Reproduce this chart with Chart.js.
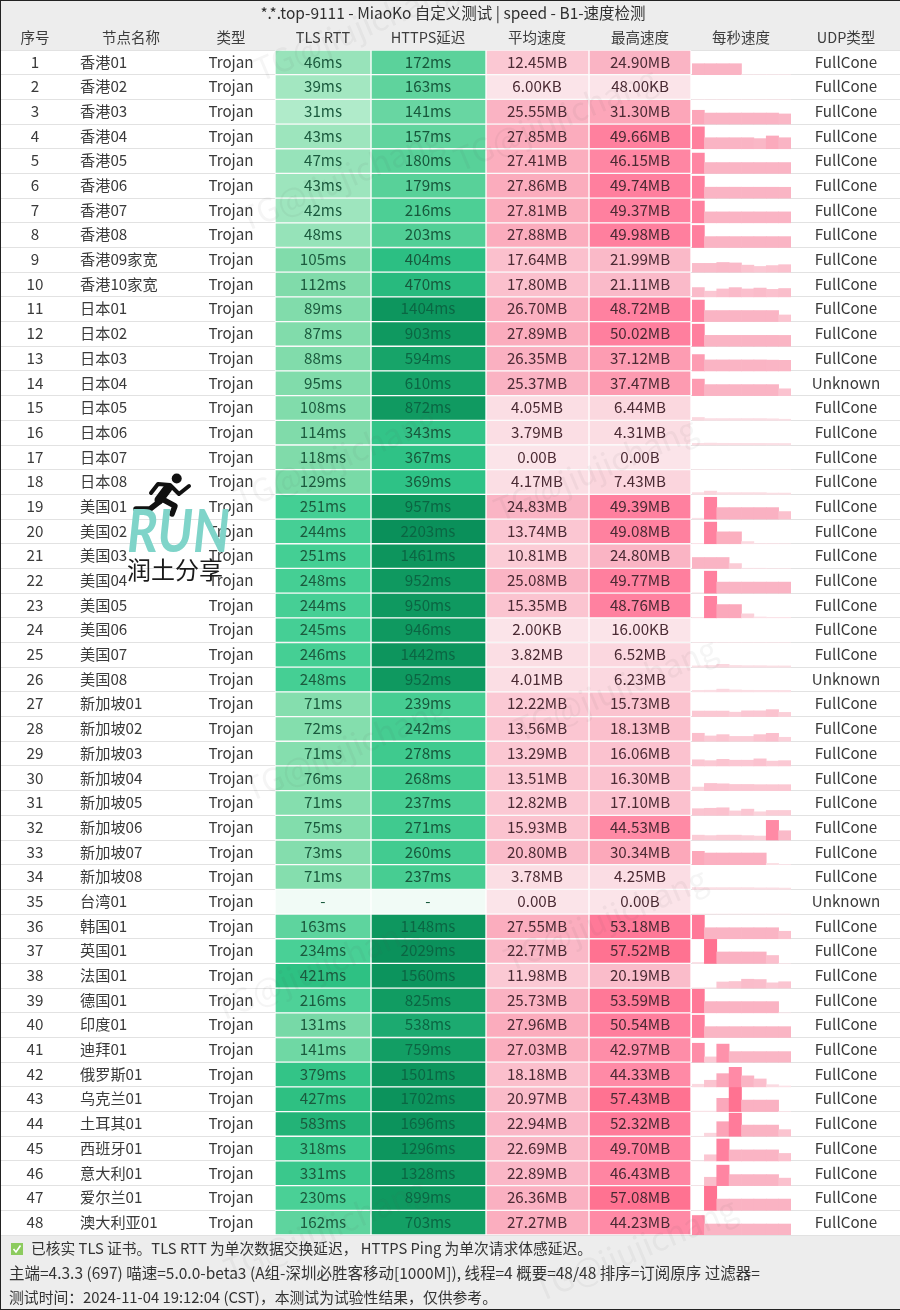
<!DOCTYPE html>
<html>
<head>
<meta charset="utf-8">
<title>MiaoKo speed</title>
<script src="https://cdn.jsdelivr.net/npm/chart.js@4/dist/chart.umd.min.js"></script>
<style>
  html, body { margin: 0; padding: 0; background: #ededed; }
  #page { position: relative; width: 900px; height: 1310px; overflow: hidden; filter: blur(0.35px); }
  #mainChart { position: absolute; left: 0; top: 0; }
  #speedChart { position: absolute; left: 692px; top: 50px; }
  #topLayer { position: absolute; left: 0; top: 0; pointer-events: none; }
</style>
</head>
<body>
<div id="page">
  <canvas id="mainChart" width="900" height="1310"></canvas>
  <canvas id="speedChart" width="99" height="1185"></canvas>
  <canvas id="topLayer" width="900" height="1310"></canvas>
</div>
<script>
const titleText = "*.*.top-9111 - MiaoKo 自定义测试 | speed - B1-速度检测";
const headers = ["序号", "节点名称", "类型", "TLS RTT", "HTTPS延迟", "平均速度", "最高速度", "每秒速度", "UDP类型"];
const nodeNames = [
  "香港01", "香港02", "香港03", "香港04", "香港05", "香港06", "香港07", "香港08", "香港09家宽", "香港10家宽",
  "日本01", "日本02", "日本03", "日本04", "日本05", "日本06", "日本07", "日本08",
  "美国01", "美国02", "美国03", "美国04", "美国05", "美国06", "美国07", "美国08",
  "新加坡01", "新加坡02", "新加坡03", "新加坡04", "新加坡05", "新加坡06", "新加坡07", "新加坡08",
  "台湾01", "韩国01", "英国01", "法国01", "德国01", "印度01", "迪拜01", "俄罗斯01", "乌克兰01", "土耳其01",
  "西班牙01", "意大利01", "爱尔兰01", "澳大利亚01"
];
const tlsRtt = [46, 39, 31, 43, 47, 43, 42, 48, 105, 112, 89, 87, 88, 95, 108, 114, 118, 129,
  251, 244, 251, 248, 244, 245, 246, 248, 71, 72, 71, 76, 71, 75, 73, 71, null,
  163, 234, 421, 216, 131, 141, 379, 427, 583, 318, 331, 230, 162];
const httpsDelay = [172, 163, 141, 157, 180, 179, 216, 203, 404, 470, 1404, 903, 594, 610, 872, 343, 367, 369,
  957, 2203, 1461, 952, 950, 946, 1442, 952, 239, 242, 278, 268, 237, 271, 260, 237, null,
  1148, 2029, 1560, 825, 538, 759, 1501, 1702, 1696, 1296, 1328, 899, 703];
const avgSpeed = ["12.45MB", "6.00KB", "25.55MB", "27.85MB", "27.41MB", "27.86MB", "27.81MB", "27.88MB", "17.64MB", "17.80MB",
  "26.70MB", "27.89MB", "26.35MB", "25.37MB", "4.05MB", "3.79MB", "0.00B", "4.17MB",
  "24.83MB", "13.74MB", "10.81MB", "25.08MB", "15.35MB", "2.00KB", "3.82MB", "4.01MB",
  "12.22MB", "13.56MB", "13.29MB", "13.51MB", "12.82MB", "15.93MB", "20.80MB", "3.78MB", "0.00B",
  "27.55MB", "22.77MB", "11.98MB", "25.73MB", "27.96MB", "27.03MB", "18.18MB", "20.97MB", "22.94MB",
  "22.69MB", "22.89MB", "26.36MB", "27.27MB"];
const maxSpeed = ["24.90MB", "48.00KB", "31.30MB", "49.66MB", "46.15MB", "49.74MB", "49.37MB", "49.98MB", "21.99MB", "21.11MB",
  "48.72MB", "50.02MB", "37.12MB", "37.47MB", "6.44MB", "4.31MB", "0.00B", "7.43MB",
  "49.39MB", "49.08MB", "24.80MB", "49.77MB", "48.76MB", "16.00KB", "6.52MB", "6.23MB",
  "15.73MB", "18.13MB", "16.06MB", "16.30MB", "17.10MB", "44.53MB", "30.34MB", "4.25MB", "0.00B",
  "53.18MB", "57.52MB", "20.19MB", "53.59MB", "50.54MB", "42.97MB", "44.33MB", "57.43MB", "52.32MB",
  "49.70MB", "46.43MB", "57.08MB", "44.23MB"];
const unknownUdpRows = [14, 26, 35];
const secondLabels = ["1s", "2s", "3s", "4s", "5s", "6s", "7s", "8s"];
// speed per time slot in MB, one row per node
const perSecond = [
  [24.9, 24.9, 24.9, 24.9, 0, 0, 0, 0],
  [0.05, 0, 0, 0, 0, 0, 0, 0],
  [31.3, 25, 25, 25, 25, 25, 25, 23],
  [49.66, 25, 25, 25, 25, 23, 29, 25],
  [46.15, 24.7, 24.7, 24.7, 24.7, 24.7, 24.7, 24.7],
  [49.74, 24.8, 24.8, 24.8, 24.7, 24.7, 24.7, 24.6],
  [49.37, 24.8, 24.8, 24.8, 24.8, 24.8, 24.8, 24.8],
  [49.98, 24.7, 24.8, 24.7, 24.7, 24.7, 24.7, 24.7],
  [20, 20, 21.99, 21, 16, 13, 15, 17],
  [21.11, 13, 18, 21, 18, 20, 17, 19],
  [48.72, 25, 25, 25, 25, 25, 25, 15],
  [50.02, 24.7, 24.7, 24.7, 24.7, 24.7, 24.7, 24.6],
  [37.12, 25, 25, 25, 25, 25, 24.5, 24],
  [37.47, 25, 25, 25, 25, 25, 25, 15.5],
  [6.44, 4, 4, 4, 4, 4, 3.5, 2.5],
  [3.8, 4.31, 3.9, 3.8, 3.7, 3.7, 3.6, 3.5],
  [0, 0, 0, 0, 0, 0, 0, 0],
  [4, 7.43, 4, 4, 4, 4, 3, 3],
  [2, 49.39, 26, 26, 26, 26, 26, 17],
  [1, 49.08, 27, 27, 5, 0.5, 0.5, 0],
  [24.8, 24.8, 24.8, 11, 0.5, 0.5, 0, 0],
  [0.8, 49.77, 25, 25, 25, 25, 25, 25],
  [1, 48.76, 30, 30, 9, 2, 1, 1],
  [0.016, 0, 0, 0, 0, 0, 0, 0],
  [3, 4, 6.52, 4, 3.5, 3.5, 3, 3],
  [3.5, 3.8, 6.23, 4.5, 3.7, 3.5, 3.5, 3.3],
  [12.5, 12.5, 12.5, 10, 13, 13, 15.73, 9.5],
  [18.13, 12, 15, 11, 11, 15, 18, 9],
  [14, 12, 15, 13, 13, 16.06, 11, 12],
  [8, 16.3, 15.5, 14, 14, 13.5, 13.5, 13.5],
  [15, 16, 17.1, 10, 14, 8, 11, 11],
  [11, 10, 11, 11, 10, 9, 44.53, 21],
  [30.34, 26.5, 26.5, 26.5, 26.5, 26.5, 3, 0.5],
  [4.25, 4, 4, 4, 4, 3.5, 3.5, 3],
  [0, 0, 0, 0, 0, 0, 0, 0],
  [53.18, 25, 25, 25, 25, 25, 25, 17],
  [2.5, 57.52, 26, 26, 26, 26, 18, 0],
  [0.6, 1, 14, 15, 20.19, 19.5, 12, 14.5],
  [53.59, 25.4, 25.4, 25.4, 25.4, 25.4, 25.4, 0],
  [50.54, 24.6, 24.6, 24.6, 24.6, 24.6, 24.6, 24.6],
  [42.97, 12, 41, 24, 24, 24, 24, 24],
  [6, 15, 30, 44.33, 25, 18, 5, 2],
  [1, 1, 30, 57.43, 26, 26, 26, 0.3],
  [0, 7, 33, 52.32, 25.3, 25.3, 25.3, 15],
  [0, 14, 49.7, 25, 25, 25, 25, 17],
  [0, 19, 46.43, 25, 25, 25, 25, 17],
  [0, 57.08, 25.5, 25.5, 25.5, 25.5, 25.5, 25.5],
  [44.23, 24.9, 24.9, 24.9, 24.9, 24.9, 24.9, 24.9]
];
const footerLine1 = "已核实 TLS 证书。TLS RTT 为单次数据交换延迟， HTTPS Ping 为单次请求体感延迟。";
const footerLine2 = "主端=4.3.3 (697) 喵速=5.0.0-beta3 (A组-深圳必胜客移动[1000M]), 线程=4 概要=48/48 排序=订阅原序 过滤器=";
const footerLine3 = "测试时间：2024-11-04 19:12:04 (CST)，本测试为试验性结果，仅供参考。";

// column layout, in page pixels
const colEdges = { tls: [275, 371], https: [371, 486], avg: [486, 589], max: [589, 691] };
const colCenters = [35, 131, 231, 323, 428, 537, 640, 741, 846];
const rowCount = nodeNames.length;
const rowUnitMB = 56; // one table row is this many MB tall in the per-second column

const FONT = '"Noto Sans CJK SC", "Noto Sans", sans-serif';
const delayStopsTls = [[0, [186, 238, 209]], [31, [176, 235, 202]], [46, [152, 227, 186]], [75, [130, 221, 172]], [120, [128, 219, 170]],
  [165, [92, 212, 157]], [250, [68, 207, 148]], [420, [46, 193, 131]], [600, [34, 178, 118]]];
const delayStopsHttps = [[0, [120, 220, 170]], [140, [104, 214, 162]], [180, [88, 209, 153]], [240, [70, 205, 146]], [370, [46, 194, 134]],
  [470, [40, 186, 126]], [540, [28, 170, 112]], [600, [22, 163, 104]], [900, [15, 153, 96]], [2200, [10, 144, 90]]];
const speedStops = [[0, [251, 228, 233]], [4, [251, 222, 228]], [12, [251, 201, 212]], [25, [250, 180, 196]], [28, [251, 172, 189]],
  [37, [253, 156, 178]], [46, [255, 134, 163]], [50, [255, 127, 158]], [57, [255, 114, 145]]];

function toMB(text) {
  const n = parseFloat(text);
  if (text.endsWith("MB")) return n;
  if (text.endsWith("KB")) return n / 1024;
  return n / (1024 * 1024);
}

function stopColor(stops, v) {
  if (v <= stops[0][0]) return "rgb(" + stops[0][1].join(",") + ")";
  for (let i = 1; i < stops.length; i++) {
    if (v <= stops[i][0]) {
      const t = (v - stops[i - 1][0]) / (stops[i][0] - stops[i - 1][0]);
      const c = stops[i][1].map((s, k) => Math.round(stops[i - 1][1][k] + (s - stops[i - 1][1][k]) * t));
      return "rgb(" + c.join(",") + ")";
    }
  }
  return "rgb(" + stops[stops.length - 1][1].join(",") + ")";
}

function cellDataset(edges, colorOf) {
  return {
    data: nodeNames.map(() => edges),
    backgroundColor: (c) => colorOf(c.dataIndex),
    borderColor: "rgba(255,255,255,0.75)",
    borderWidth: 1,
    borderSkipped: false,
    barPercentage: 1,
    categoryPercentage: 1,
    grouped: false
  };
}

const tableText = {
  id: "tableText",
  beforeDraw(chart) {
    const a = chart.chartArea, ctx = chart.ctx;
    ctx.save();
    ctx.fillStyle = "#ededed";
    ctx.fillRect(0, 0, 900, 1310);
    ctx.fillStyle = "#ffffff";
    ctx.fillRect(a.left, a.top, a.width, a.height);
    ctx.restore();
  },
  afterDraw(chart) {
    const ctx = chart.ctx, y = chart.scales.y;
    ctx.save();
    ctx.textBaseline = "middle";
    ctx.textAlign = "center";
    ctx.font = "15.5px " + FONT;
    ctx.fillStyle = "#2f2f2f";
    ctx.fillText(titleText, 453, 13, 387);
    ctx.font = "14.5px " + FONT;
    ctx.fillStyle = "#3c3c3c";
    headers.forEach((h, i) => ctx.fillText(h, colCenters[i], 37));

    ctx.font = "15.2px " + FONT;
    nodeNames.forEach((name, i) => {
      const py = y.getPixelForValue(i) - 0.5;
      ctx.fillStyle = "#3a3a3a";
      ctx.textAlign = "center";
      ctx.fillText(String(i + 1), colCenters[0], py);
      ctx.textAlign = "left";
      ctx.fillText(name, 80, py);
      ctx.textAlign = "center";
      ctx.fillText("Trojan", colCenters[2], py);
      ctx.fillText(unknownUdpRows.includes(i + 1) ? "Unknown" : "FullCone", colCenters[8], py);
      ctx.fillStyle = "#1b5a3e";
      ctx.fillText(tlsRtt[i] == null ? "-" : tlsRtt[i] + "ms", colCenters[3], py);
      ctx.fillStyle = httpsDelay[i] >= 500 ? "#0b6643" : "#17583c";
      ctx.fillText(httpsDelay[i] == null ? "-" : httpsDelay[i] + "ms", colCenters[4], py);
      ctx.fillStyle = "#4a2a33";
      ctx.fillText(avgSpeed[i], colCenters[5], py);
      ctx.fillText(maxSpeed[i], colCenters[6], py);
    });

    // footer
    ctx.textAlign = "left";
    ctx.fillStyle = "#333333";
    ctx.font = "15px " + FONT;
    ctx.fillText(footerLine1, 31, 1248, 561);
    ctx.fillText(footerLine3, 9, 1297, 488);
    ctx.font = "15.5px " + FONT;
    ctx.fillText(footerLine2, 9, 1273, 751);
    ctx.fillStyle = "#8ccb5e";
    ctx.fillRect(11, 1243, 12, 12);
    ctx.strokeStyle = "#ffffff";
    ctx.lineWidth = 1.6;
    ctx.beginPath();
    ctx.moveTo(13.5, 1249);
    ctx.lineTo(16, 1252);
    ctx.lineTo(20.5, 1245.5);
    ctx.stroke();
    ctx.restore();
  }
};

new Chart(document.getElementById("mainChart"), {
  type: "bar",
  data: {
    labels: nodeNames,
    datasets: [
      cellDataset(colEdges.tls, (i) => tlsRtt[i] == null ? "#f1fbf6" : stopColor(delayStopsTls, tlsRtt[i])),
      cellDataset(colEdges.https, (i) => httpsDelay[i] == null ? "#f1fbf6" : stopColor(delayStopsHttps, httpsDelay[i])),
      cellDataset(colEdges.avg, (i) => stopColor(speedStops, toMB(avgSpeed[i]))),
      cellDataset(colEdges.max, (i) => stopColor(speedStops, toMB(maxSpeed[i])))
    ]
  },
  options: {
    indexAxis: "y",
    responsive: false,
    animation: false,
    devicePixelRatio: 1,
    layout: { padding: { top: 50, bottom: 75, left: 0, right: 0 } },
    plugins: { legend: { display: false }, tooltip: { enabled: false } },
    scales: {
      x: { display: false, min: 0, max: 900 },
      y: {
        afterFit(scale) { scale.width = 0; },
        ticks: { display: false },
        border: { display: false },
        grid: { color: "#e2e2e2", drawTicks: false }
      }
    }
  },
  plugins: [tableText]
});

// per-second column: one floating bar per slot, rows stacked down the y axis
new Chart(document.getElementById("speedChart"), {
  type: "bar",
  data: {
    labels: secondLabels,
    datasets: perSecond.map((row, r) => ({
      data: row.map((v) => {
        const base = (rowCount - 1 - r) * rowUnitMB;
        return [base, base + v];
      }),
      backgroundColor: row.map((v) => stopColor(speedStops, v)),
      borderWidth: 0,
      barPercentage: 1,
      categoryPercentage: 1,
      grouped: false
    }))
  },
  options: {
    responsive: false,
    animation: false,
    devicePixelRatio: 1,
    plugins: { legend: { display: false }, tooltip: { enabled: false } },
    scales: {
      x: { display: false },
      y: { display: false, min: 0, max: rowCount * rowUnitMB }
    }
  }
});

// logo, watermark and screenshot edge sit on top of everything
function drawTopLayer() {
  const ctx = document.getElementById("topLayer").getContext("2d");
  const marks = [[360, 40], [345, 190], [560, 130], [340, 470], [600, 480], [350, 760], [620, 700], [320, 980], [610, 930], [640, 1260], [330, 1240]];
  ctx.save();
  ctx.font = "32px " + FONT;
  ctx.fillStyle = "rgba(90,90,90,0.06)";
  ctx.textAlign = "center";
  marks.forEach(([x, y]) => {
    ctx.save();
    ctx.translate(x, y);
    ctx.rotate(-0.4);
    ctx.fillText("TG@jiujichang", 0, 0);
    ctx.restore();
  });
  ctx.restore();

  ctx.save();
  ctx.strokeStyle = "#111111";
  ctx.fillStyle = "#111111";
  ctx.lineCap = "round";
  ctx.lineJoin = "round";
  ctx.beginPath();
  ctx.arc(176.7, 478.5, 5, 0, Math.PI * 2);
  ctx.fill();
  ctx.lineWidth = 9;
  ctx.beginPath();
  ctx.moveTo(168, 488);
  ctx.lineTo(159, 500);
  ctx.stroke();
  ctx.lineWidth = 4;
  ctx.beginPath();
  ctx.moveTo(151, 493);
  ctx.lineTo(158, 484);
  ctx.lineTo(170, 485);
  ctx.lineTo(179, 494);
  ctx.lineTo(189, 486);
  ctx.stroke();
  ctx.lineWidth = 5.5;
  ctx.beginPath();
  ctx.moveTo(159, 502);
  ctx.lineTo(150, 509);
  ctx.lineTo(136, 509);
  ctx.stroke();
  ctx.beginPath();
  ctx.moveTo(162, 499);
  ctx.lineTo(175, 506);
  ctx.lineTo(172, 514);
  ctx.stroke();

  ctx.fillStyle = "#7fd4c9";
  ctx.textBaseline = "alphabetic";
  ctx.textAlign = "left";
  ctx.font = "italic 700 60px Lato, sans-serif";
  ctx.fillText("RUN", 127, 552, 103);
  ctx.fillStyle = "#1a1a1a";
  ctx.textBaseline = "middle";
  ctx.font = "24px " + FONT;
  ctx.fillText("润土分享", 127, 570, 96);

  ctx.fillStyle = "#222222";
  ctx.fillRect(0, 0, 900, 1);
  ctx.fillRect(0, 0, 1, 1310);
  ctx.fillRect(0, 1309, 900, 1);
  ctx.restore();
}
drawTopLayer();
</script>
</body>
</html>
